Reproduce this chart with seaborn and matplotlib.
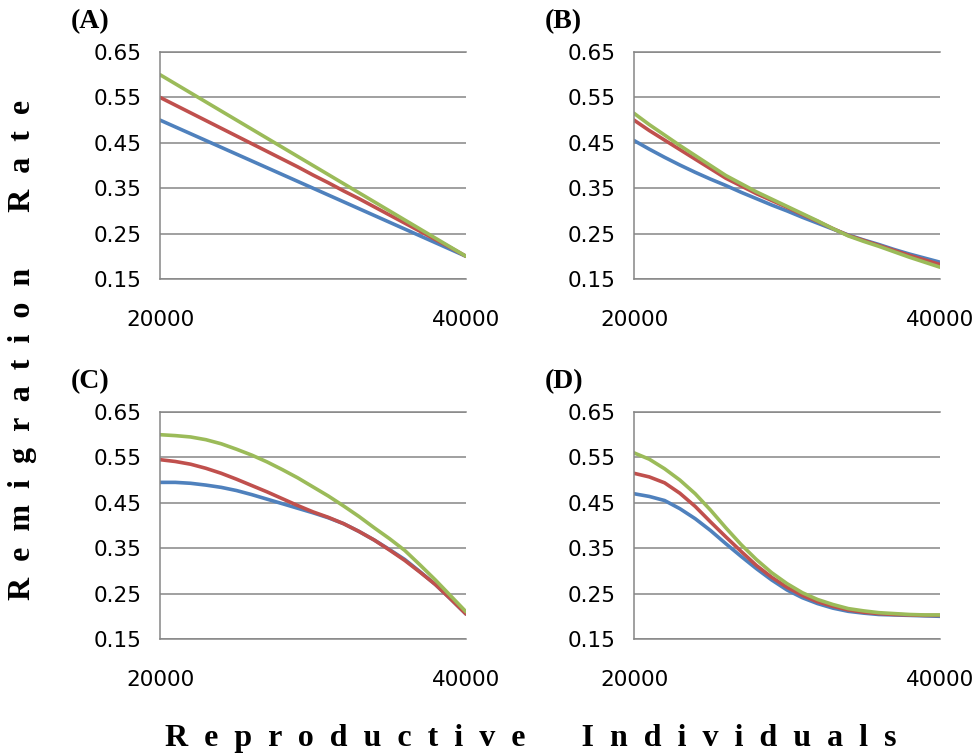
import numpy as np
import pandas as pd
import matplotlib
matplotlib.use("Agg")
import matplotlib.pyplot as plt
import seaborn as sns

# ─── DATA ─────────────────────────────────────────────────────────────────────
individuals = [20000, 21000, 22000, 23000, 24000, 25000, 26000, 27000, 28000, 29000, 30000,
               31000, 32000, 33000, 34000, 35000, 36000, 37000, 38000, 39000, 40000]
series_names = ['blue', 'red', 'green']

panel_a_blue  = [0.500, 0.485, 0.470, 0.455, 0.440, 0.425, 0.410, 0.395, 0.380, 0.365, 0.350,
                 0.335, 0.320, 0.305, 0.290, 0.275, 0.260, 0.245, 0.230, 0.215, 0.200]
panel_a_red   = [0.550, 0.533, 0.516, 0.499, 0.482, 0.465, 0.448, 0.431, 0.414, 0.397, 0.379,
                 0.362, 0.344, 0.327, 0.309, 0.291, 0.273, 0.255, 0.237, 0.219, 0.200]
panel_a_green = [0.600, 0.580, 0.560, 0.540, 0.520, 0.500, 0.480, 0.460, 0.440, 0.420, 0.400,
                 0.380, 0.360, 0.340, 0.320, 0.300, 0.280, 0.260, 0.240, 0.220, 0.200]

panel_b_blue  = [0.455, 0.436, 0.418, 0.401, 0.385, 0.370, 0.356, 0.341, 0.327, 0.313, 0.300,
                 0.286, 0.273, 0.260, 0.247, 0.236, 0.226, 0.215, 0.205, 0.196, 0.187]
panel_b_red   = [0.500, 0.477, 0.456, 0.435, 0.414, 0.393, 0.372, 0.355, 0.338, 0.323, 0.308,
                 0.292, 0.277, 0.261, 0.246, 0.235, 0.224, 0.213, 0.202, 0.192, 0.182]
panel_b_green = [0.515, 0.490, 0.467, 0.444, 0.422, 0.400, 0.378, 0.360, 0.342, 0.326, 0.310,
                 0.294, 0.278, 0.261, 0.245, 0.233, 0.222, 0.210, 0.198, 0.187, 0.176]

panel_c_blue  = [0.495, 0.495, 0.493, 0.489, 0.484, 0.477, 0.468, 0.458, 0.448, 0.438, 0.428,
                 0.417, 0.404, 0.387, 0.368, 0.347, 0.325, 0.298, 0.270, 0.238, 0.205]
panel_c_red   = [0.545, 0.541, 0.535, 0.526, 0.515, 0.502, 0.488, 0.474, 0.459, 0.444, 0.430,
                 0.418, 0.404, 0.387, 0.368, 0.346, 0.323, 0.297, 0.270, 0.238, 0.205]
panel_c_green = [0.600, 0.598, 0.595, 0.589, 0.580, 0.568, 0.555, 0.540, 0.523, 0.505, 0.485,
                 0.465, 0.443, 0.420, 0.395, 0.371, 0.345, 0.313, 0.280, 0.245, 0.210]

panel_d_blue  = [0.470, 0.464, 0.455, 0.437, 0.415, 0.389, 0.360, 0.332, 0.305, 0.280, 0.258,
                 0.241, 0.228, 0.218, 0.211, 0.207, 0.204, 0.203, 0.202, 0.201, 0.200]
panel_d_red   = [0.515, 0.507, 0.494, 0.471, 0.442, 0.408, 0.375, 0.343, 0.312, 0.286, 0.264,
                 0.246, 0.232, 0.222, 0.214, 0.209, 0.206, 0.204, 0.203, 0.202, 0.202]
panel_d_green = [0.560, 0.546, 0.525, 0.500, 0.470, 0.434, 0.395, 0.358, 0.325, 0.296, 0.272,
                 0.252, 0.237, 0.226, 0.217, 0.212, 0.208, 0.206, 0.204, 0.203, 0.203]

panel_letters = ['(A)', '(B)', '(C)', '(D)']
y_ticks = [0.15, 0.25, 0.35, 0.45, 0.55, 0.65]
x_ticks = [20000, 40000]

COLORS = ['#4F81BD', '#C0504D', '#9BBB59']
GRID = '#868686'

panels = [
    (panel_a_blue, panel_a_red, panel_a_green),
    (panel_b_blue, panel_b_red, panel_b_green),
    (panel_c_blue, panel_c_red, panel_c_green),
    (panel_d_blue, panel_d_red, panel_d_green),
]

# ─── LAYOUT (pixels -> figure fractions) ──────────────────────────────────────
W, H = 978, 754
axes_px = [(160, 52), (634, 52), (160, 412), (634, 412)]  # left, top
AX_W, AX_H = 306, 227

sns.set_style('white')
plt.rcParams['font.family'] = ['DejaVu Sans']
plt.rcParams['text.color'] = 'black'
plt.rcParams['xtick.labelcolor'] = 'black'
plt.rcParams['ytick.labelcolor'] = 'black'

fig = plt.figure(figsize=(W / 100, H / 100), dpi=100)

for (left, top), vals, letter in zip(axes_px, panels, panel_letters):
    ax = fig.add_axes([left / W, 1 - (top + AX_H) / H, AX_W / W, AX_H / H])

    df = pd.DataFrame({
        'x': individuals * 3,
        'y': vals[0] + vals[1] + vals[2],
        'series': [s for s in series_names for _ in individuals],
    })
    sns.lineplot(data=df, x='x', y='y', hue='series', hue_order=series_names,
                 palette=COLORS, linewidth=2.6, legend=False, ax=ax)

    ax.set_xlim(20000, 40000)
    ax.set_ylim(0.15, 0.65)
    ax.set_xticks(x_ticks)
    ax.set_xticklabels([str(t) for t in x_ticks])
    ax.set_yticks(y_ticks)
    ax.set_yticklabels([f'{t:.2f}' for t in y_ticks])
    ax.set_xlabel('')
    ax.set_ylabel('')

    ax.grid(axis='y', color=GRID, linewidth=1.1)
    ax.grid(axis='x', visible=False)
    for side in ['left', 'top', 'bottom']:
        ax.spines[side].set_visible(True)
        ax.spines[side].set_color(GRID)
        ax.spines[side].set_linewidth(1.1)
    ax.spines['right'].set_visible(False)

    ax.tick_params(axis='y', length=6, width=1.1, color=GRID, pad=7,
                   labelsize=15.5, labelcolor='black')
    ax.tick_params(axis='x', length=0, pad=22, labelsize=15.5, labelcolor='black')

    # panel letter, up-left of each axes
    fig.text((left - 89) / W, 1 - (top - 30) / H, letter,
             fontsize=20, fontweight='bold', family='Liberation Serif',
             color='black', ha='left', va='center')

sp = '  '
xlab = sp.join('Reproductive') + ' ' * 7 + sp.join('Individuals')
ylab = sp.join('Remigration') + ' ' * 7 + sp.join('Rate')
fig.text(531 / W, 1 - 746 / H, xlab, fontsize=23, fontweight='bold',
         family='Liberation Serif', color='black', ha='center', va='baseline')
fig.text(23 / W, 1 - 350 / H, ylab, fontsize=23, fontweight='bold',
         family='Liberation Serif', color='black', ha='center', va='center', rotation=90)

fig.savefig('out.png', dpi=100)
